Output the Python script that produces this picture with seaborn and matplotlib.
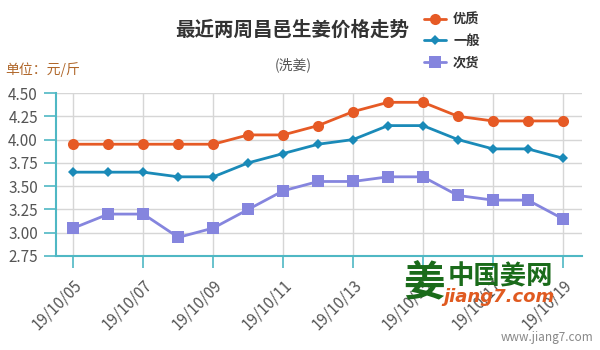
import numpy as np
import pandas as pd
import seaborn as sns
import matplotlib
matplotlib.use("Agg")
import matplotlib.pyplot as plt

dates = ["19/10/05", "19/10/06", "19/10/07", "19/10/08", "19/10/09", "19/10/10", "19/10/11",
         "19/10/12", "19/10/13", "19/10/14", "19/10/15", "19/10/16", "19/10/17", "19/10/18", "19/10/19"]
youzhi = [3.95, 3.95, 3.95, 3.95, 3.95, 4.05, 4.05, 4.15, 4.30, 4.40, 4.40, 4.25, 4.20, 4.20, 4.20]
yiban = [3.65, 3.65, 3.65, 3.60, 3.60, 3.75, 3.85, 3.95, 4.00, 4.15, 4.15, 4.00, 3.90, 3.90, 3.80]
cihuo = [3.05, 3.20, 3.20, 2.95, 3.05, 3.25, 3.45, 3.55, 3.55, 3.60, 3.60, 3.40, 3.35, 3.35, 3.15]
series_names = ["优质", "一般", "次货"]
yticks = [2.75, 3.00, 3.25, 3.50, 3.75, 4.00, 4.25, 4.50]

sns.set_theme(style="white")
plt.rcParams['font.family'] = ['Noto Sans CJK SC', 'DejaVu Sans']

idx = np.arange(len(dates))
df = pd.DataFrame({
    "idx": np.tile(idx, 3),
    "price": youzhi + yiban + cihuo,
    "grade": np.repeat(series_names, len(dates)),
})

colors = {"优质": "#e65a25", "一般": "#1a8ab8", "次货": "#8585de"}
markers = {"优质": "o", "一般": "D", "次货": "s"}
msize = {"优质": 8, "一般": 5.5, "次货": 8}

fig = plt.figure(figsize=(6, 3.5), dpi=100)
ax = fig.add_axes([56/600, 1-256/350, (582-56)/600, (256-93)/350])

for g in series_names:
    sub = df[df.grade == g]
    sns.lineplot(data=sub, x="idx", y="price", ax=ax, color=colors[g], marker=markers[g],
                 markersize=msize[g], markeredgewidth=0, linewidth=2, label=g, zorder=3)

ax.set_xlim(-0.5, 14.55)
ax.set_ylim(2.75, 4.5)
ax.set_yticks(yticks)
ax.set_yticklabels([f"{v:.2f}" for v in yticks])
ax.set_xticks(idx[::2])
ax.set_xticklabels([dates[i] for i in idx[::2]], rotation=45, ha="right", rotation_mode="anchor")
ax.set_xlabel("")
ax.set_ylabel("")
axis_c = "#4fb8c4"
ax.grid(True, color="#d6d6d6", linewidth=1)
for s in ["top", "right"]:
    ax.spines[s].set_visible(False)
for s in ["left", "bottom"]:
    ax.spines[s].set_color(axis_c)
    ax.spines[s].set_linewidth(1.5)
ax.tick_params(axis="x", colors=axis_c, length=8.5, width=1.2, labelcolor="#555555", labelsize=11, pad=6, bottom=True)
ax.tick_params(axis="y", colors=axis_c, length=9, width=1.2, labelcolor="#555555", labelsize=11, pad=4, left=True)

leg = ax.legend(loc="center left", bbox_to_anchor=(424/600, 1-41/350), bbox_transform=fig.transFigure,
                frameon=False, fontsize=9.5, handlelength=1.7, handletextpad=0.5, labelspacing=0.55,
                borderaxespad=0, borderpad=0)
for t in leg.get_texts():
    t.set_color("#333333")
    t.set_fontweight("bold")

fig.text(292/600, 1-30/350, "最近两周昌邑生姜价格走势", ha="center", va="center", fontsize=14,
         fontweight="bold", color="#333333")
fig.text(293/600, 1-65/350, "(洗姜)", ha="center", va="center", fontsize=10, color="#555555")
fig.text(5/600, 1-70/350, "单位：元/斤", ha="left", va="center", fontsize=10, color="#b0672a")
fig.text(593/600, 1-337/350, "www.jiang7.com", ha="right", va="center", fontsize=8.5, color="#888888")
fig.text(448/600, 1-277/350, "中国姜网", ha="left", va="center", fontsize=19, fontweight="bold", color="#1a6b1a")
fig.text(443/600, 1-297/350, "jiang7.com", ha="left", va="center", fontsize=13, fontweight="bold",
         fontstyle="italic", color="#e05a20", family="DejaVu Sans")
fig.text(424/600, 1-284/350, "姜", ha="center", va="center", fontsize=30, fontweight="bold", color="#1a6b1a")

fig.savefig("out.png", dpi=100)
